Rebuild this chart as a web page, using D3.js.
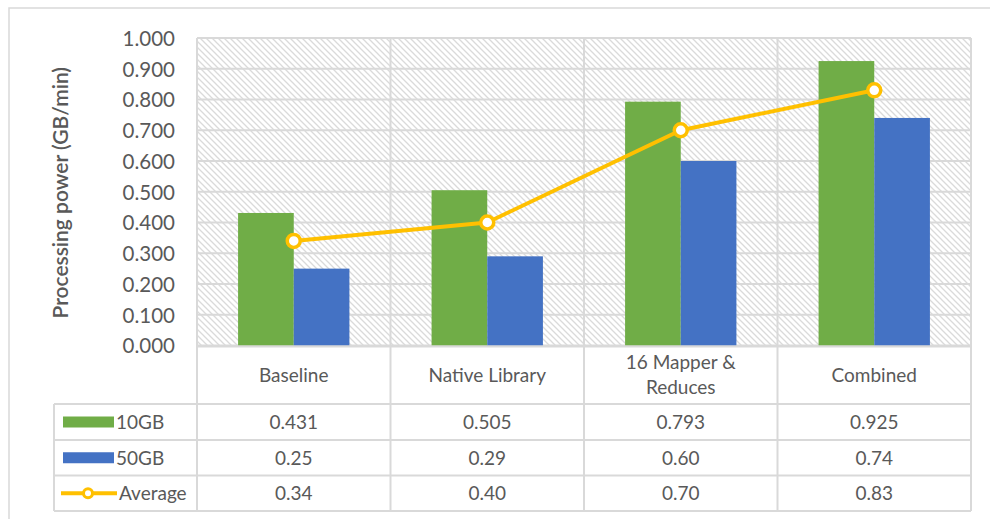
<!DOCTYPE html>
<html>
<head>
<meta charset="utf-8">
<script src="https://cdn.jsdelivr.net/npm/d3@7"></script>
<style>
  html, body { margin: 0; padding: 0; background: #fff; }
  svg { display: block; }
  text { font-family: Lato, "Open Sans", "Noto Sans", sans-serif; fill: #595959; }
</style>
</head>
<body>
<svg id="chart" width="990" height="519"></svg>
<script>
// Processing power per configuration
const categories = ["Baseline", "Native Library", "16 Mapper & Reduces", "Combined"];
const categoryLines = [["Baseline"], ["Native Library"], ["16 Mapper &", "Reduces"], ["Combined"]];
const series = ["10GB", "50GB"];
const values10GB = [0.431, 0.505, 0.793, 0.925];
const values50GB = [0.25, 0.29, 0.60, 0.74];
const valuesAverage = [0.34, 0.40, 0.70, 0.83];
const label10GB = ["0.431", "0.505", "0.793", "0.925"];
const label50GB = ["0.25", "0.29", "0.60", "0.74"];
const labelAverage = ["0.34", "0.40", "0.70", "0.83"];
const yTicks = [0, 0.1, 0.2, 0.3, 0.4, 0.5, 0.6, 0.7, 0.8, 0.9, 1.0];

const colors = { "10GB": "#70AD47", "50GB": "#4472C4", "Average": "#FFC000" };
const gridColor = "#d9d9d9";
const tableFont = "19px";

const svg = d3.select("#chart");

const plot = { left: 197, right: 971, top: 38, bottom: 345.5 };
const table = { legendLeft: 54, headerBottom: 404, rows: [404, 440, 475.5, 511] };

const x = d3.scaleBand().domain(categories).range([plot.left, plot.right]).padding(0);
const xs = d3.scaleBand().domain(series).range([0, x.bandwidth()]).paddingInner(0).paddingOuter(0.738);
const y = d3.scaleLinear().domain([0, 1]).range([plot.bottom, plot.top]);

// hatch fill for the plot area
const defs = svg.append("defs");
const pat = defs.append("pattern")
  .attr("id", "hatch").attr("patternUnits", "userSpaceOnUse")
  .attr("width", 6).attr("height", 6);
pat.append("rect").attr("width", 6).attr("height", 6).attr("fill", "#fff");
pat.append("path")
  .attr("d", "M-1,-1 L7,7 M-1,5 L1,7 M5,-1 L7,1")
  .attr("stroke", "#dadada").attr("stroke-width", 1.3);

// outer chart frame
svg.append("rect")
  .attr("x", 9).attr("y", 8).attr("width", 1000).attr("height", 530)
  .attr("fill", "none").attr("stroke", "#d9d9d9").attr("stroke-width", 1.5);

svg.append("rect")
  .attr("x", plot.left).attr("y", plot.top)
  .attr("width", plot.right - plot.left).attr("height", plot.bottom - plot.top)
  .attr("fill", "url(#hatch)");

// horizontal gridlines
svg.append("g").selectAll("line").data(yTicks).join("line")
  .attr("x1", plot.left).attr("x2", plot.right)
  .attr("y1", d => y(d)).attr("y2", d => y(d))
  .attr("stroke", gridColor).attr("stroke-width", 2);

// y axis tick labels
const yAxis = d3.axisLeft(y).tickValues(yTicks).tickFormat(d3.format(".3f")).tickSize(0).tickPadding(22);
const gy = svg.append("g").attr("transform", `translate(${plot.left},0)`).call(yAxis);
gy.select(".domain").remove();
gy.selectAll("text").style("font-size", "20.5px").attr("fill", "#595959").attr("dy", "0.36em");

// axis title
svg.append("text")
  .attr("transform", `translate(68,${(plot.top + plot.bottom) / 2 + 1}) rotate(-90)`)
  .attr("text-anchor", "middle")
  .style("font-size", "21px").style("font-weight", "600")
  .text("Processing power (GB/min)");

// vertical category separators through plot and table
const bounds = categories.map(c => x(c)).concat([plot.right]);
svg.append("g").selectAll("line").data(bounds).join("line")
  .attr("x1", d => d).attr("x2", d => d)
  .attr("y1", plot.top).attr("y2", table.rows[3])
  .attr("stroke", gridColor).attr("stroke-width", 2);

// bars
const barData = [];
categories.forEach((c, i) => {
  barData.push({ c, s: "10GB", v: values10GB[i] });
  barData.push({ c, s: "50GB", v: values50GB[i] });
});
svg.append("g").selectAll("rect").data(barData).join("rect")
  .attr("x", d => x(d.c) + xs(d.s))
  .attr("width", xs.bandwidth())
  .attr("y", d => y(d.v))
  .attr("height", d => y(0) - y(d.v))
  .attr("fill", d => colors[d.s]);

// average line with markers
const cx = c => x(c) + x.bandwidth() / 2;
svg.append("path")
  .datum(valuesAverage)
  .attr("d", d3.line().x((d, i) => cx(categories[i])).y(d => y(d)))
  .attr("fill", "none").attr("stroke", colors.Average).attr("stroke-width", 4)
  .attr("stroke-linejoin", "round");
svg.append("g").selectAll("circle").data(valuesAverage).join("circle")
  .attr("cx", (d, i) => cx(categories[i])).attr("cy", d => y(d))
  .attr("r", 6.5).attr("fill", "#fff")
  .attr("stroke", colors.Average).attr("stroke-width", 3.5);

// data table: horizontal rules
svg.append("line")
  .attr("x1", plot.left).attr("x2", plot.right)
  .attr("y1", plot.bottom + 1).attr("y2", plot.bottom + 1)
  .attr("stroke", gridColor).attr("stroke-width", 2);
svg.append("g").selectAll("line").data(table.rows).join("line")
  .attr("x1", table.legendLeft).attr("x2", plot.right)
  .attr("y1", d => d).attr("y2", d => d)
  .attr("stroke", gridColor).attr("stroke-width", 2);
svg.append("line")
  .attr("x1", table.legendLeft).attr("x2", table.legendLeft)
  .attr("y1", table.rows[0]).attr("y2", table.rows[3])
  .attr("stroke", gridColor).attr("stroke-width", 2);

// category header labels
const header = svg.append("g");
categoryLines.forEach((lines, i) => {
  const t = header.append("text")
    .attr("x", cx(categories[i]))
    .attr("text-anchor", "middle")
    .style("font-size", tableFont);
  const mid = (plot.bottom + table.headerBottom) / 2;
  const lh = 25;
  lines.forEach((ln, j) => {
    t.append("tspan")
      .attr("x", cx(categories[i]))
      .attr("y", mid + (j - (lines.length - 1) / 2) * lh)
      .attr("dy", "0.36em")
      .text(ln);
  });
});

// table rows
const rowDefs = [
  { name: "10GB", labels: label10GB, type: "bar" },
  { name: "50GB", labels: label50GB, type: "bar" },
  { name: "Average", labels: labelAverage, type: "line" }
];
rowDefs.forEach((r, k) => {
  const yc = (table.rows[k] + table.rows[k + 1]) / 2;
  const g = svg.append("g");
  if (r.type === "bar") {
    g.append("rect").attr("x", 63).attr("y", yc - 5.5).attr("width", 51).attr("height", 11)
      .attr("fill", colors[r.name]);
    g.append("text").attr("x", 116).attr("y", yc).attr("dy", "0.36em")
      .style("font-size", tableFont).text(r.name);
  } else {
    g.append("line").attr("x1", 61).attr("x2", 117).attr("y1", yc).attr("y2", yc)
      .attr("stroke", colors.Average).attr("stroke-width", 4);
    g.append("circle").attr("cx", 88).attr("cy", yc).attr("r", 4.5)
      .attr("fill", "#fff").attr("stroke", colors.Average).attr("stroke-width", 3);
    g.append("text").attr("x", 119).attr("y", yc).attr("dy", "0.36em")
      .style("font-size", tableFont).text(r.name);
  }
  g.selectAll("text.v").data(r.labels).join("text")
    .attr("class", "v")
    .attr("x", (d, i) => cx(categories[i])).attr("y", yc).attr("dy", "0.36em")
    .attr("text-anchor", "middle")
    .style("font-size", tableFont)
    .text(d => d);
});
</script>
</body>
</html>
